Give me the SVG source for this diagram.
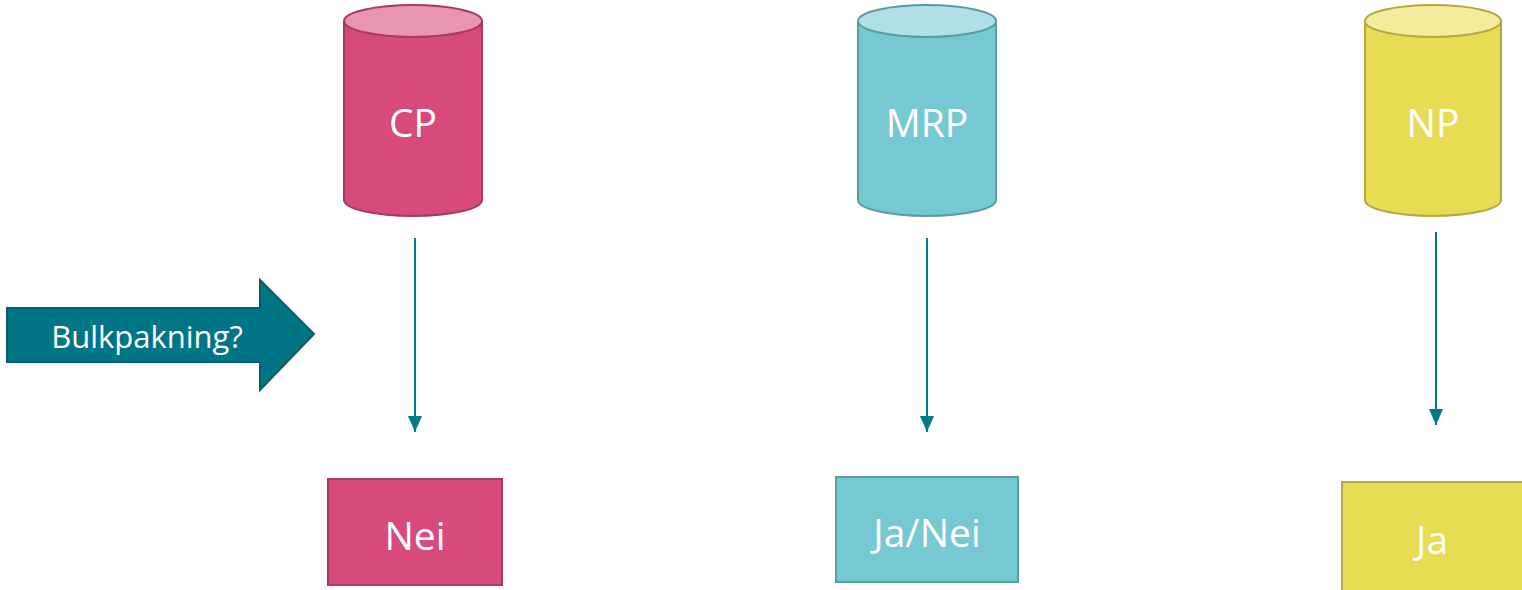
<svg xmlns="http://www.w3.org/2000/svg" width="1522" height="590" viewBox="0 0 1522 590">
<style>
  text { font-family: "Open Sans", "Noto Sans", sans-serif; fill: #ffffff; text-anchor: middle; dominant-baseline: central; }
  .big { font-size: 39px; }
  .mid { font-size: 31px; }
  .conn { stroke: #007a87; stroke-width: 2; fill: none; }
  .cp .body { fill: #d64b7b; stroke: #a53a62; stroke-width: 2; }
  .cp .top { fill: #e995b2; stroke: #a53a62; stroke-width: 2; }
  .mrp .body { fill: #76c8d2; stroke: #5a9aa2; stroke-width: 2; }
  .mrp .top { fill: #b0dfe5; stroke: #5a9aa2; stroke-width: 2; }
  .np .body { fill: #e9dc55; stroke: #b3a943; stroke-width: 2; }
  .np .top { fill: #f3ec9d; stroke: #b3a943; stroke-width: 2; }
</style>
<defs>
  <marker id="ah" viewBox="0 0 16 14" refX="16" refY="7" markerWidth="16" markerHeight="14" markerUnits="userSpaceOnUse" orient="auto">
    <path d="M0,0 L16,7 L0,14 Z" fill="#007a87"/>
  </marker>
</defs>

<g id="cp" class="cp">
  <path class="body" d="M344,21 L344,200 A69,16 0 0 0 482,200 L482,21"/>
  <ellipse class="top" cx="413" cy="21" rx="69" ry="16"/>
  <text class="big" x="413" y="121">CP</text>
</g>
<g id="mrp" class="mrp">
  <path class="body" d="M858,21 L858,200 A69,16 0 0 0 996,200 L996,21"/>
  <ellipse class="top" cx="927" cy="21" rx="69" ry="16"/>
  <text class="big" x="927" y="121">MRP</text>
</g>
<g id="np" class="np">
  <path class="body" d="M1365,21 L1365,200 A68,16 0 0 0 1501,200 L1501,21"/>
  <ellipse class="top" cx="1433" cy="21" rx="68" ry="16"/>
  <text class="big" x="1433" y="121">NP</text>
</g>

<g id="bulk">
  <path d="M7,308 L260,308 L260,280 L314,334 L260,390 L260,362 L7,362 Z" fill="#007585" stroke="#0a5d68" stroke-width="2"/>
  <text class="mid" x="147" y="336">Bulkpakning?</text>
</g>

<g id="nei" class="cp">
  <rect class="body" x="328" y="479" width="174" height="106"/>
  <text class="big" x="415" y="534">Nei</text>
</g>
<g id="janei" class="mrp">
  <rect class="body" x="836" y="477" width="182" height="105"/>
  <text class="big" x="927" y="531">Ja/Nei</text>
</g>
<g id="ja" class="np">
  <rect class="body" x="1342" y="482" width="190" height="112"/>
  <text class="big" x="1432" y="538">Ja</text>
</g>

<g id="connectors">
  <line class="conn" x1="415" y1="238" x2="415" y2="432" marker-end="url(#ah)"/>
  <line class="conn" x1="927" y1="238" x2="927" y2="432" marker-end="url(#ah)"/>
  <line class="conn" x1="1436" y1="232" x2="1436" y2="425" marker-end="url(#ah)"/>
</g>
</svg>
